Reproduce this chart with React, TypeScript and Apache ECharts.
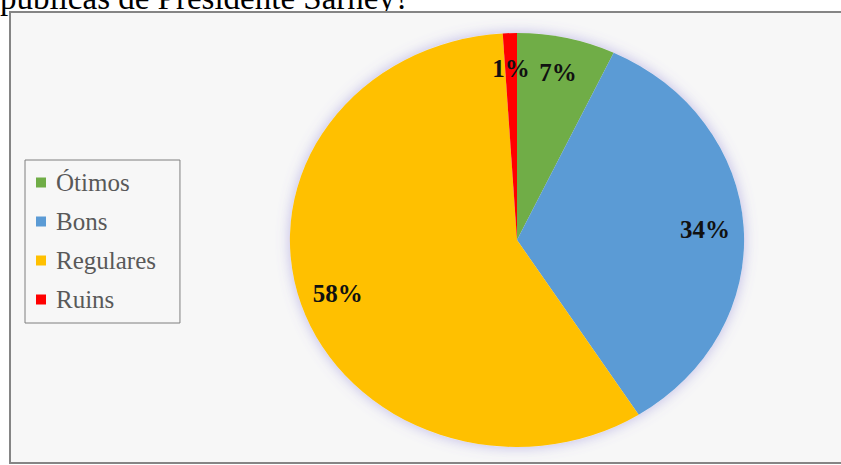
import React, { useEffect, useRef } from "react";
import * as echarts from "echarts";

const categories = ["Ótimos", "Bons", "Regulares", "Ruins"];
const values = [7, 34, 58, 1];
const percentLabels = ["7%", "34%", "58%", "1%"];
const colors = ["#70ad47", "#5b9bd5", "#ffc000", "#ff0000"];
const captionText = "públicas de Presidente Sarney?";

const CX = 517;
const CY = 240;
const RY = 207;
const RX = 227;
const LABEL_FRAC = 0.83;

export default function App() {
  const ref = useRef<HTMLDivElement>(null);
  useEffect(() => {
    if (!ref.current) return;
    const chart = echarts.init(ref.current, undefined, { renderer: "svg" });
    const total = values.reduce((a, b) => a + b, 0);
    const series = categories.map((name, i) => ({
      type: "custom",
      name,
      coordinateSystem: "none",
      itemStyle: { color: colors[i] },
      data: [[values[i]]],
      z: 3,
      renderItem: (params: any, api: any) => {
        const before = values.slice(0, i).reduce((a, b) => a + b, 0);
        const v = api.value(0);
        const a0 = (before / total) * Math.PI * 2;
        const a1 = ((before + v) / total) * Math.PI * 2;
        const mid = (a0 + a1) / 2;
        const lx = CX + LABEL_FRAC * RX * Math.sin(mid);
        const ly = CY - LABEL_FRAC * RY * Math.cos(mid);
        return {
          type: "group",
          children: [
            {
              type: "sector",
              x: CX,
              y: CY,
              scaleX: RX / RY,
              scaleY: 1,
              shape: {
                cx: 0,
                cy: 0,
                r0: 0,
                r: RY,
                startAngle: a0 - Math.PI / 2,
                endAngle: a1 - Math.PI / 2,
                clockwise: true,
              },
              style: { fill: colors[i], lineWidth: 0 },
            },
            {
              type: "text",
              x: lx,
              y: ly,
              z2: 10,
              style: {
                text: percentLabels[i],
                fill: "#111111",
                fontFamily: "Liberation Serif",
                fontWeight: "bold",
                fontSize: 25,
                align: "center",
                verticalAlign: "middle",
              },
            },
          ],
        };
      },
    }));

    chart.setOption({
      animation: false,
      backgroundColor: "#ffffff",
      textStyle: { fontFamily: "Liberation Serif" },
      graphic: [
        {
          type: "text",
          z: -20,
          x: 0,
          y: 14,
          style: {
            text: captionText,
            fill: "#000000",
            fontFamily: "Liberation Serif",
            fontSize: 33,
            align: "left",
            verticalAlign: "bottom",
          },
        },
        {
          type: "rect",
          z: -10,
          shape: { x: 10, y: 12, width: 840, height: 451 },
          style: { fill: "#f7f7f7", stroke: "#858585", lineWidth: 2 },
        },
        {
          type: "ellipse",
          z: -5,
          shape: { cx: CX, cy: CY, rx: RX, ry: RY },
          style: {
            fill: "#f0eef8",
            shadowBlur: 14,
            shadowColor: "rgba(120,110,210,0.45)",
          },
        },
      ],
      legend: {
        data: categories,
        orient: "vertical",
        left: 25,
        top: 160,
        icon: "rect",
        itemWidth: 10,
        itemHeight: 10,
        itemGap: 14,
        selectedMode: false,
        padding: [10, 24, 11, 11],
        borderColor: "#7f7f7f",
        borderWidth: 1,
        textStyle: {
          fontFamily: "Liberation Serif",
          fontSize: 25,
          color: "#595959",
          padding: [0, 0, 0, 5],
        },
      },
      series,
    });
    return () => chart.dispose();
  }, []);
  return (
    <div
      ref={ref}
      style={{ position: "fixed", left: 0, top: 0, width: 841, height: 465 }}
    />
  );
}
